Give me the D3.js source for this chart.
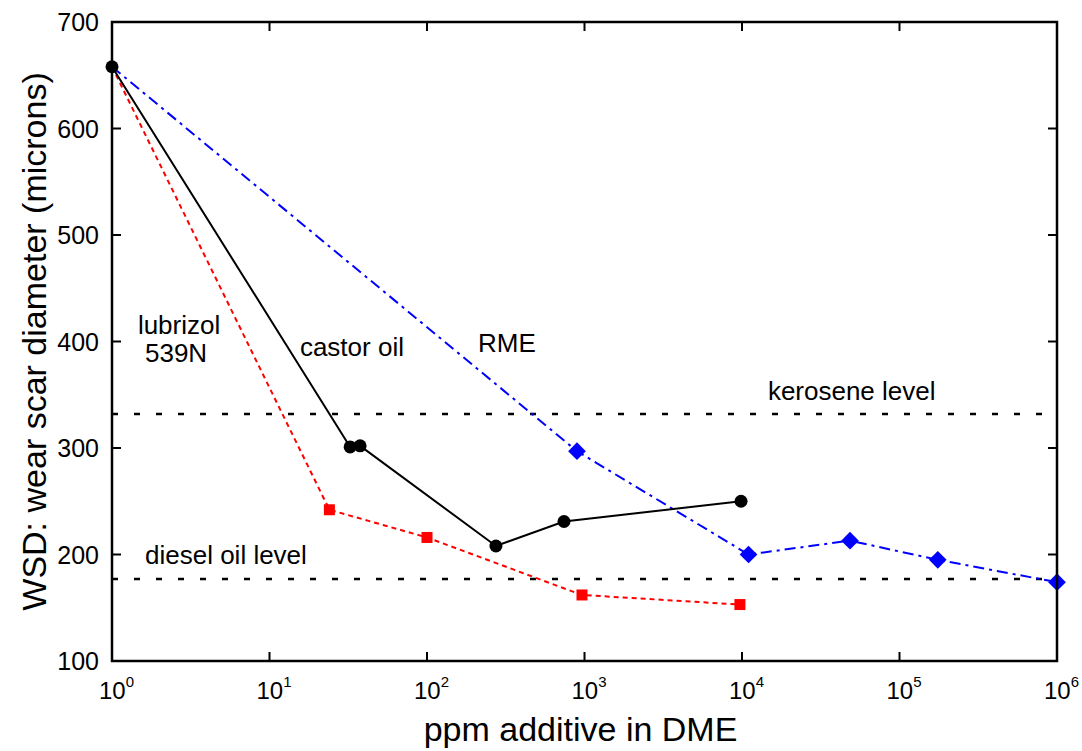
<!DOCTYPE html>
<html>
<head>
<meta charset="utf-8">
<script src="https://cdn.jsdelivr.net/npm/d3@7"></script>
<style>
	body { margin: 0; background: #fff; }
	svg text { font-family: "Liberation Sans", Arial, sans-serif; fill: #000; }
</style>
</head>
<body>
<svg id="chart" width="1082" height="751"></svg>
<script>
// castor oil
const castorX = [1, 32.5, 37.6, 274, 741, 9860];
const castorY = [658, 301, 302, 208, 231, 250];
// lubrizol 539N
const lubrizolX = [1, 24, 100, 964, 9700];
const lubrizolY = [658, 242, 216, 162, 153];
// RME
const rmeX = [1, 896, 11000, 48500, 175000, 1000000];
const rmeY = [658, 297, 200, 213, 195, 174];

const keroseneLevel = 332;
const dieselLevel = 177;

const yTicks = [100, 200, 300, 400, 500, 600, 700];
const xTicks = [1, 10, 100, 1000, 10000, 100000, 1000000];

const labels = [
	{ text: 'lubrizol', x: 1.46, y: 407 },
	{ text: '539N', x: 1.62, y: 381 },
	{ text: 'castor oil', x: 15.6, y: 386 },
	{ text: 'RME', x: 211, y: 390 },
	{ text: 'kerosene level', x: 14600, y: 345 },
	{ text: 'diesel oil level', x: 1.62, y: 191 },
];

const margin = { top: 22, right: 25, bottom: 90, left: 112 };
const width = 1082 - margin.left - margin.right;
const height = 751 - margin.top - margin.bottom;

const x = d3.scaleLog().domain([1, 1e6]).range([0, width]);
const y = d3.scaleLinear().domain([100, 700]).range([height, 0]);

const svg = d3.select('#chart')
	.append('g')
		.attr('transform', `translate(${ margin.left }, ${ margin.top })`);

const zip = (xs, ys) => xs.map((v, i) => ({ x: v, y: ys[i] }));
const line = d3.line().x(d => x(d.x)).y(d => y(d.y));

// level lines
[keroseneLevel, dieselLevel].forEach(v => {
	svg.append('line')
		.attr('x1', 0).attr('x2', width)
		.attr('y1', y(v)).attr('y2', y(v))
		.attr('stroke', '#000')
		.attr('stroke-width', 2.5)
		.attr('stroke-dasharray', '6,16');
});

// series lines
svg.append('path')
	.datum(zip(lubrizolX, lubrizolY))
	.attr('d', line)
	.attr('fill', 'none')
	.attr('stroke', '#f00')
	.attr('stroke-width', 2)
	.attr('stroke-dasharray', '5,4');

svg.append('path')
	.datum(zip(rmeX, rmeY))
	.attr('d', line)
	.attr('fill', 'none')
	.attr('stroke', '#00f')
	.attr('stroke-width', 2)
	.attr('stroke-dasharray', '11,5,3,5');

svg.append('path')
	.datum(zip(castorX, castorY))
	.attr('d', line)
	.attr('fill', 'none')
	.attr('stroke', '#000')
	.attr('stroke-width', 2);

// markers
svg.selectAll('.sq')
	.data(zip(lubrizolX, lubrizolY).slice(1))
	.join('rect')
		.attr('x', d => x(d.x) - 5.5)
		.attr('y', d => y(d.y) - 5.5)
		.attr('width', 11)
		.attr('height', 11)
		.attr('fill', '#f00');

svg.selectAll('.dm')
	.data(zip(rmeX, rmeY).slice(1))
	.join('path')
		.attr('d', d3.symbol(d3.symbolDiamond2, 200))
		.attr('transform', d => `translate(${ x(d.x) }, ${ y(d.y) })`)
		.attr('fill', '#00f');

svg.selectAll('.ci')
	.data(zip(castorX, castorY))
	.join('circle')
		.attr('cx', d => x(d.x))
		.attr('cy', d => y(d.y))
		.attr('r', 6.5)
		.attr('fill', '#000');

// frame
svg.append('rect')
	.attr('width', width)
	.attr('height', height)
	.attr('fill', 'none')
	.attr('stroke', '#000')
	.attr('stroke-width', 2.5);

// ticks (inside)
const tickLen = 9;
yTicks.slice(1, -1).forEach(v => {
	svg.append('line').attr('x1', 0).attr('x2', tickLen).attr('y1', y(v)).attr('y2', y(v)).attr('stroke', '#000').attr('stroke-width', 2);
	svg.append('line').attr('x1', width).attr('x2', width - tickLen).attr('y1', y(v)).attr('y2', y(v)).attr('stroke', '#000').attr('stroke-width', 2);
});
xTicks.slice(1, -1).forEach(v => {
	svg.append('line').attr('x1', x(v)).attr('x2', x(v)).attr('y1', height).attr('y2', height - tickLen).attr('stroke', '#000').attr('stroke-width', 2);
	svg.append('line').attr('x1', x(v)).attr('x2', x(v)).attr('y1', 0).attr('y2', tickLen).attr('stroke', '#000').attr('stroke-width', 2);
});

// tick labels
svg.selectAll('.yl')
	.data(yTicks)
	.join('text')
		.attr('x', -13)
		.attr('y', d => y(d))
		.attr('dy', '0.36em')
		.attr('text-anchor', 'end')
		.attr('font-size', 25)
		.text(d => d);

const xl = svg.selectAll('.xl')
	.data(xTicks)
	.join('text')
		.attr('x', d => x(d) - 13)
		.attr('y', height + 38)
		.attr('font-size', 24);
xl.append('tspan').text('10');
xl.append('tspan')
	.attr('font-size', 15)
	.attr('dy', -12)
	.text(d => Math.round(Math.log10(d)));

// annotations
svg.selectAll('.lab')
	.data(labels)
	.join('text')
		.attr('x', d => x(d.x))
		.attr('y', d => y(d.y))
		.attr('font-size', 26)
		.text(d => d.text);

// axis titles
svg.append('text')
	.attr('x', width / 2 - 4)
	.attr('y', height + 80)
	.attr('text-anchor', 'middle')
	.attr('font-size', 34)
	.text('ppm additive in DME');

svg.append('text')
	.attr('transform', `translate(${ -margin.left + 46 }, ${ height / 2 }) rotate(-90)`)
	.attr('text-anchor', 'middle')
	.attr('font-size', 34)
	.text('WSD: wear scar diameter (microns)');
</script>
</body>
</html>
